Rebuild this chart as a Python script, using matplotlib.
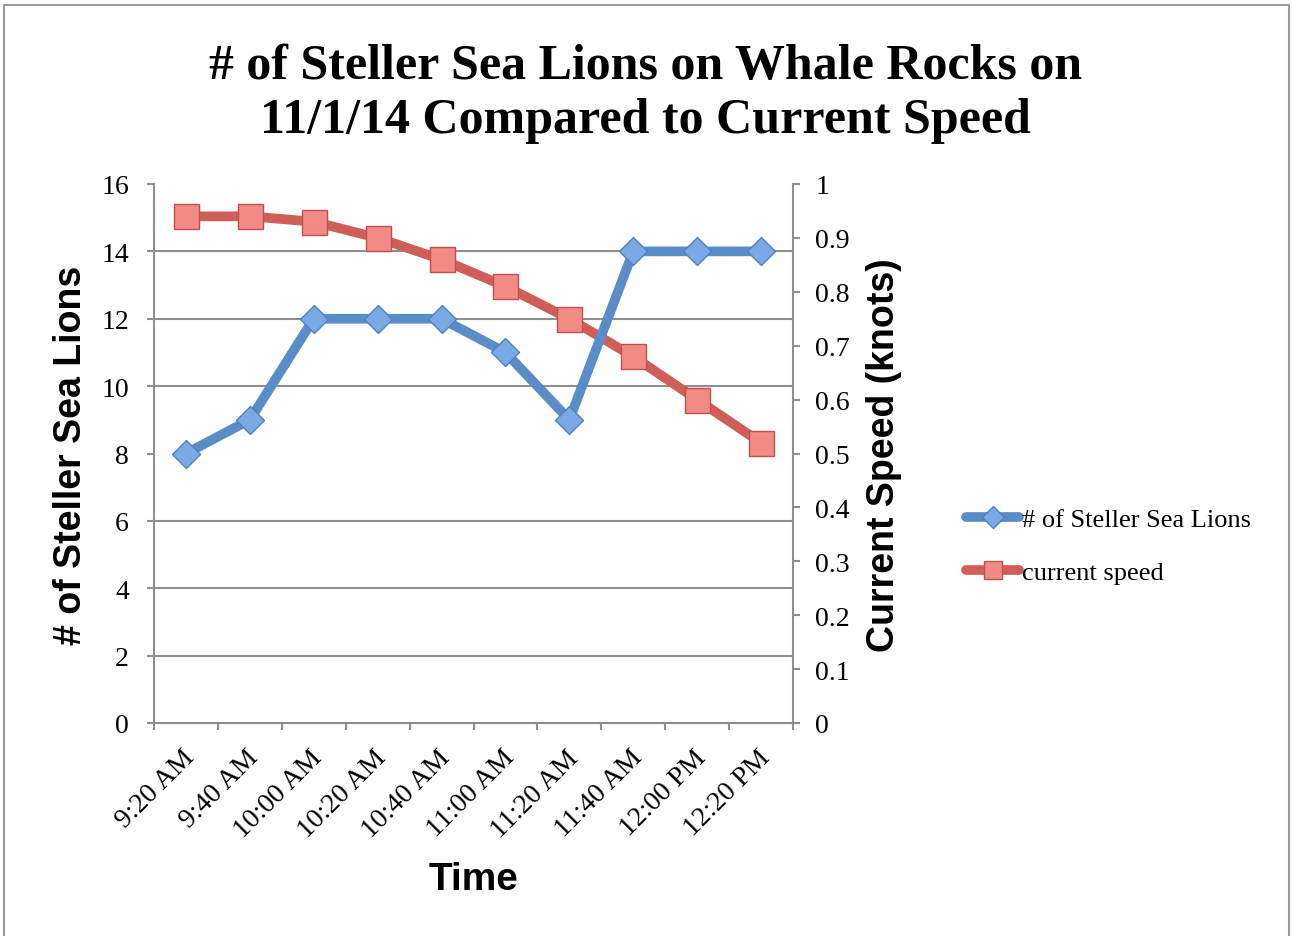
import numpy as np
import matplotlib
matplotlib.use("Agg")
import matplotlib.pyplot as plt
from matplotlib.patches import Rectangle
from matplotlib.transforms import ScaledTranslation
from matplotlib.ticker import FuncFormatter

# survey times and counts
times = ["9:20 AM", "9:40 AM", "10:00 AM", "10:20 AM", "10:40 AM",
         "11:00 AM", "11:20 AM", "11:40 AM", "12:00 PM", "12:20 PM"]
sea_lions = [8, 9, 12, 12, 12, 11, 9, 14, 14, 14]
current_speed = [0.94, 0.94, 0.93, 0.90, 0.86, 0.81, 0.75, 0.68, 0.60, 0.52]

GREY = "#8e8e8e"
BLUE_LINE = "#5a8cc8"
BLUE_FILL = "#7aaae6"
BLUE_EDGE = "#4f81bd"
RED_LINE = "#cf5e59"
RED_FILL = "#f28a86"
RED_EDGE = "#c0504d"
SERIF = ["Liberation Serif", "DejaVu Serif"]
SANS = ["Liberation Sans", "DejaVu Sans"]

plt.rcParams["font.family"] = SERIF

W, H = 1292, 937
fig = plt.figure(figsize=(W / 100, H / 100), dpi=100)
fig.patch.set_facecolor("white")

ax = fig.add_axes([154 / W, 1 - 724 / H, 639 / W, 539 / H])
ax2 = ax.twinx()
# counts drawn on top of the current speed line
ax.set_zorder(ax2.get_zorder() + 1)
ax.patch.set_visible(False)

x = np.arange(len(times))
ax.set_xlim(-0.5, len(times) - 0.5)
ax.set_ylim(0, 16)
ax2.set_ylim(0, 1)

l1, = ax.plot(x, sea_lions, color=BLUE_LINE, lw=7, marker="D", ms=14.5,
              mfc=BLUE_FILL, mec=BLUE_EDGE, mew=1.0,
              solid_joinstyle="round", solid_capstyle="round",
              label="# of Steller Sea Lions")
l2, = ax2.plot(x, current_speed, color=RED_LINE, lw=7, marker="s", ms=18,
               mfc=RED_FILL, mec=RED_EDGE, mew=1.0,
               solid_joinstyle="round", solid_capstyle="round",
               label="current speed")

# y ticks / gridlines
ax.set_yticks(np.arange(0, 17, 2))
ax2.set_yticks(np.arange(0, 1.01, 0.1))
ax2.yaxis.set_major_formatter(FuncFormatter(lambda v, p: f"{v:g}"))
ax2.set_yticks(np.arange(0, 1.001, 0.125), minor=True)
ax2.grid(which="minor", axis="y", color=GREY, lw=1.5)
ax2.set_axisbelow(True)

# x ticks: labels at category centres, tick marks at boundaries
ax.set_xticks(x)
ax.set_xticklabels(times)
ax.set_xticks(np.arange(-0.5, len(times)), minor=True)

for a in (ax, ax2):
    for s in a.spines.values():
        s.set_color(GREY)
        s.set_linewidth(1.5)
    a.spines["top"].set_visible(False)
ax.spines["right"].set_visible(False)
ax2.spines["left"].set_visible(False)
ax2.spines["bottom"].set_visible(False)

FS = 20
ax.tick_params(axis="y", which="major", direction="out", length=5, width=1.5,
               color=GREY, labelsize=FS, pad=13)
ax2.tick_params(axis="y", which="major", direction="out", length=5, width=1.5,
                color=GREY, labelsize=FS, pad=11)
ax2.tick_params(axis="y", which="minor", length=0)
ax.tick_params(axis="x", which="major", length=0, labelsize=FS, pad=22)
ax.tick_params(axis="x", which="minor", direction="out", length=5, width=1.5,
               color=GREY)

shift = ScaledTranslation(0.05, 0, fig.dpi_scale_trans)
for lab in ax.get_xticklabels():
    lab.set_rotation(45)
    lab.set_ha("right")
    lab.set_va("center")
    lab.set_rotation_mode("anchor")
    lab.set_transform(lab.get_transform() + shift)

# title and axis titles
fig.text(0.5, 1 - 94 / H,
         "# of Steller Sea Lions on Whale Rocks on\n11/1/14 Compared to Current Speed",
         ha="center", va="center", fontsize=36, fontweight="bold",
         family=SERIF, linespacing=1.25)
fig.text(71 / W, 1 - 455 / H, "# of Steller Sea Lions", rotation=90,
         ha="center", va="center", fontsize=27, fontweight="bold", family=SANS)
fig.text(884 / W, 1 - 455 / H, "Current Speed (knots)", rotation=90,
         ha="center", va="center", fontsize=27, fontweight="bold", family=SANS)
fig.text(474 / W, 1 - 880 / H, "Time", ha="center", va="center",
         fontsize=28, fontweight="bold", family=SANS)

ax.legend(handles=[l1, l2], loc="center left",
          bbox_to_anchor=(953 / W, 1 - 547 / H), bbox_transform=fig.transFigure,
          frameon=False, fontsize=FS * 0.95, handlelength=2.0, handletextpad=0.1,
          labelspacing=1.1, borderpad=0, markerscale=0.75)

# outer chart frame
fig.patches.append(Rectangle((3.5 / W, -0.05), 1285 / W, 1.05 - 5.5 / H,
                             transform=fig.transFigure, fill=False,
                             ec="#9a9a9a", lw=1.5))

fig.savefig("out.png", dpi=100)
